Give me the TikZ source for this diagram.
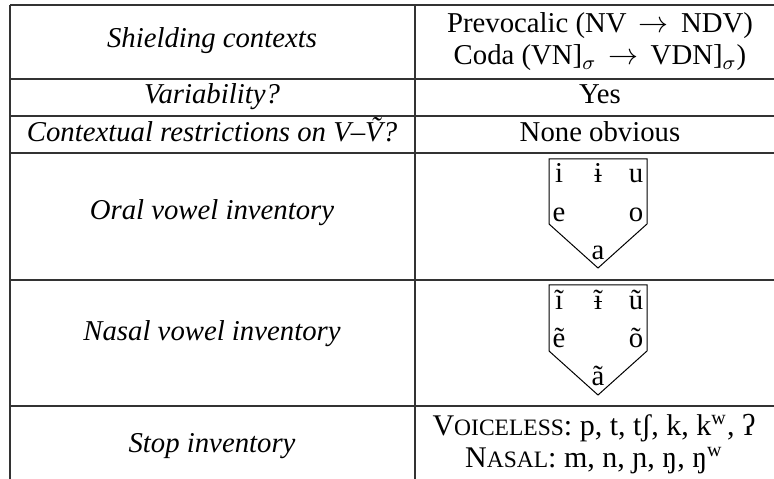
\documentclass[tikz,border=0pt]{standalone}
\usepackage{fontspec}
\setmainfont{Liberation Serif}
\newcommand\smallcapsize{\fontsize{9.4}{10}\selectfont}
% barred i with a tilde in place of the dot
\newcommand\nasalbari{\ooalign{ĩ\cr\hidewidth\rule[0.23em]{0.3em}{0.045em}\hidewidth\cr}}
\begin{document}
\begin{tikzpicture}[x=0.4pt,y=-0.4pt,
  rule/.style={line width=0.55pt, draw=black!80},
  chart/.style={line width=0.4pt, draw=black},
  txt/.style={anchor=base, inner sep=0pt, font=\fontsize{11.5}{12.8}\selectfont},
  lbl/.style={anchor=base, inner sep=0pt, font=\fontsize{11.5}{13}\selectfont\itshape},
  vow/.style={anchor=base, inner sep=0pt, font=\fontsize{11.5}{13}\selectfont},
]
\useasboundingbox (0,0) rectangle (774,479);

% table rules
\foreach \y in {5,79,116,153,280,406}
  \draw[rule] (10,\y) -- (774,\y);
\draw[rule] (10,5) -- (10,479);
\draw[rule] (415,5) -- (415,479);

% left column labels
\node[lbl] (shield) at (212,48) {Shielding contexts};
\node[lbl] (var) at (212,104) {Variability?};
\node[lbl] (restr) at (212,142) {Contextual restrictions on V–Ṽ?};
\node[lbl] (oral) at (212,220) {Oral vowel inventory};
\node[lbl] (nasal) at (212,340) {Nasal vowel inventory};
\node[lbl] (stop) at (212,452) {Stop inventory};

% right column values (multi-line nodes sit on their last baseline)
\node[txt, align=center] (ctx) at (600,65)
  {Prevocalic (NV $\,\rightarrow\,$ NDV)\\Coda (VN]$_\sigma$ $\,\rightarrow\,$ VDN]$_\sigma$)};
\node[txt] (yes) at (600,104) {Yes};
\node[txt] (none) at (600,142) {None obvious};
\node[txt, align=center, font=\fontsize{12}{12.8}\selectfont] (stops) at (594,467)
  {V{\smallcapsize OICELESS}: p, t, tʃ, k, k\textsuperscript{w}, ʔ\\
   N{\smallcapsize ASAL}: m, n, ɲ, ŋ, ŋ\textsuperscript{w}};

% oral vowel chart
\draw[chart] (549,159) -- (647,159) -- (647,224) -- (598,268) -- (549,224) -- cycle;
\node[vow] (vi) at (559,183) {i};
\node[vow] (vbi) at (598,183) {ɨ};
\node[vow] (vu) at (636,183) {u};
\node[vow] (ve) at (559,221) {e};
\node[vow] (vo) at (636,221) {o};
\node[vow] (va) at (598,260) {a};

% nasal vowel chart
\draw[chart] (549,285) -- (647,285) -- (647,351) -- (598,395) -- (549,351) -- cycle;
\node[vow] (ni) at (559,309) {ĩ};
\node[vow] (nbi) at (598,309) {\nasalbari};
\node[vow] (nu) at (636,309) {ũ};
\node[vow] (ne) at (559,347) {ẽ};
\node[vow] (no) at (636,347) {õ};
\node[vow] (na) at (598,385) {ã};
\end{tikzpicture}
\end{document}
